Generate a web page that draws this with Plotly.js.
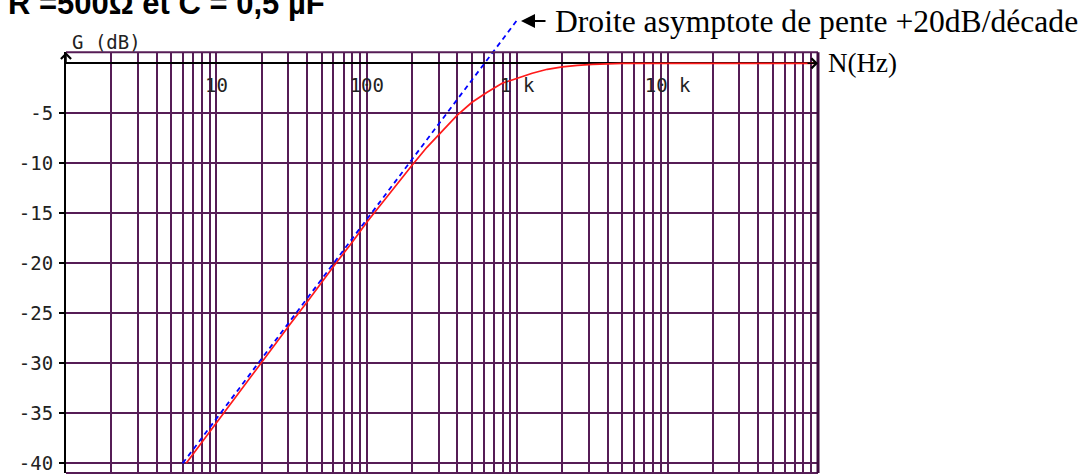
<!DOCTYPE html>
<html>
<head>
<meta charset="utf-8">
<script src="https://cdn.plot.ly/plotly-3.0.1.min.js"></script>
<style>html,body{margin:0;padding:0;background:#fff;}#chart{width:1085px;height:475px;}</style>
</head>
<body>
<div id="chart"></div>
<script>
// ---- data ----
const freqHz = [6.3, 8, 10, 12.6, 15.8, 20, 25, 31.6, 40, 50, 63, 80, 100, 126, 158, 200, 251, 316, 398, 501, 631, 794, 1000, 1259, 1585, 1995, 2512, 3162, 5000, 10000, 20000, 50000, 100000];
const gainDb = [-40.0, -37.9, -35.9, -33.9, -31.9, -29.9, -27.9, -25.9, -23.9, -21.9, -19.9, -17.9, -15.9, -14.0, -12.1, -10.2, -8.4, -6.8, -5.2, -3.9, -2.9, -2.0, -1.5, -1.0, -0.6, -0.35, -0.2, -0.1, 0, 0, 0, 0, 0];
const asymFreqHz = [5.97, 1000];
const asymGainDb = [-40, 4.33];
const yTickVals = [-40, -35, -30, -25, -20, -15, -10, -5];
const yTickText = ['-40', '-35', '-30', '-25', '-20', '-15', '-10', '-5'];
const xLabelVals = [10, 100, 1000, 10000];
const xLabelText = ['10', '100', '1 k', '10 k'];
const gridMantissa = [1, 2, 3, 4, 5, 6, 7, 8, 9];
const gridDecades = [1, 10, 100, 1000, 10000];

const titleText = '<b>R =500Ω et C = 0,5 µF</b>';
const asymText = 'Droite asymptote de pente +20dB/décade';

// ---- layout geometry ----
const W = 1085, H = 475;
const mL = 66, mR = 267, mT = 15, mB = 2;
const plotH = H - mT - mB;           // 458
const plotTopPx = 52.3;
const D = (H - mB - plotTopPx) / plotH;
const yMin = -40.97, yMax = 1.1;
const pxPerDb = D * plotH / (yMax - yMin);
const y2Max = yMin + plotH / pxPerDb;
const py = p => (H - mB - p) / plotH;        // pixel y -> paper
const px = p => (p - mL) / (W - mL - mR);    // pixel x -> paper

const gridVals = [];
gridDecades.forEach(d => gridMantissa.forEach(m => { const v = m * d; if (v > 1) gridVals.push(v); }));

const purple = '#561d56';
const mono = 'DejaVu Sans Mono, monospace';
const serif = 'Liberation Serif, Times New Roman, serif';

const traces = [
  {x: freqHz, y: gainDb, xaxis: 'x', yaxis: 'y', type: 'scatter', mode: 'lines',
   line: {color: '#ff1a1a', width: 1.7}, hoverinfo: 'skip'},
  {x: asymFreqHz, y: asymGainDb, xaxis: 'x2', yaxis: 'y2', type: 'scatter', mode: 'lines',
   line: {color: '#0000ff', width: 1.8, dash: '5px,4px'}, hoverinfo: 'skip'}
];

const layout = {
  width: W, height: H,
  margin: {l: mL, r: mR, t: mT, b: mB, pad: 0},
  paper_bgcolor: '#ffffff', plot_bgcolor: 'rgba(0,0,0,0)',
  showlegend: false,
  title: {text: titleText, x: 8 / W, xanchor: 'left', xref: 'container', yref: 'container', y: 1 - 3 / H, yanchor: 'middle',
          font: {family: 'Liberation Sans, Arial, sans-serif', size: 31, color: '#000'}},
  xaxis: {type: 'log', range: [0, 5], domain: [0, 1], anchor: 'y',
          tickvals: gridVals, showticklabels: false, ticks: '',
          showgrid: true, gridcolor: purple, gridwidth: 2, showline: false, zeroline: false},
  yaxis: {range: [yMin, yMax], domain: [0, D], anchor: 'x',
          tickvals: yTickVals, ticktext: yTickText, ticks: 'outside', ticklen: 5, tickwidth: 2, tickcolor: '#000',
          tickfont: {family: mono, size: 19, color: '#222'}, ticklabelstandoff: 2,
          showgrid: true, gridcolor: purple, gridwidth: 2,
          zeroline: true, zerolinecolor: '#000', zerolinewidth: 2,
          showline: true, linecolor: '#000', linewidth: 2},
  xaxis2: {type: 'log', range: [0, 5], domain: [0, 1], anchor: 'free', position: py(72),
           tickvals: xLabelVals, ticktext: xLabelText, ticks: '', showgrid: false, showline: false, zeroline: false,
           tickfont: {family: mono, size: 19, color: '#222'}},
  yaxis2: {range: [yMin, y2Max], domain: [0, 1], anchor: 'x2', visible: false},
  shapes: [
    {type: 'line', xref: 'x domain', yref: 'y domain', x0: 0, x1: 1, y0: 1, y1: 1, line: {color: purple, width: 2}, layer: 'above'},
    {type: 'line', xref: 'x domain', yref: 'y domain', x0: 0, x1: 1, y0: 0, y1: 0, line: {color: purple, width: 2}, layer: 'above'},
    {type: 'line', xref: 'x domain', yref: 'y domain', x0: 1, x1: 1, y0: 0, y1: 1, line: {color: '#3d0a3d', width: 3}, layer: 'above'}
  ],
  annotations: [
    {text: 'G (dB)', xref: 'paper', yref: 'paper', x: px(70), y: py(42), xanchor: 'left', yanchor: 'middle', showarrow: false,
     font: {family: mono, size: 19, color: '#222'}},
    {text: 'N(Hz)', xref: 'paper', yref: 'y', x: px(826), y: 0, xanchor: 'left', yanchor: 'middle', showarrow: false,
     font: {family: serif, size: 27, color: '#000'}},
    {text: '', xref: 'paper', yref: 'y', x: 1, y: 0, ax: -12, ay: 0, showarrow: true, arrowhead: 4, arrowsize: 1.3, arrowwidth: 1.5, arrowcolor: '#000'},
    {text: '', xref: 'paper', yref: 'y', x: 0, y: yMax, ax: 0, ay: 12, showarrow: true, arrowhead: 4, arrowsize: 1.3, arrowwidth: 1.5, arrowcolor: '#000'},
    {text: '', xref: 'paper', yref: 'paper', x: px(521), y: py(21), ax: 26, ay: 0, showarrow: true, arrowhead: 2, arrowsize: 1.4, arrowwidth: 2, arrowcolor: '#000'},
    {text: asymText, xref: 'paper', yref: 'paper', x: px(553), y: py(22), xanchor: 'left', yanchor: 'middle', showarrow: false,
     font: {family: serif, size: 31.6, color: '#000'}}
  ]
};

Plotly.newPlot('chart', traces, layout, {staticPlot: true, displayModeBar: false});
</script>
</body>
</html>
